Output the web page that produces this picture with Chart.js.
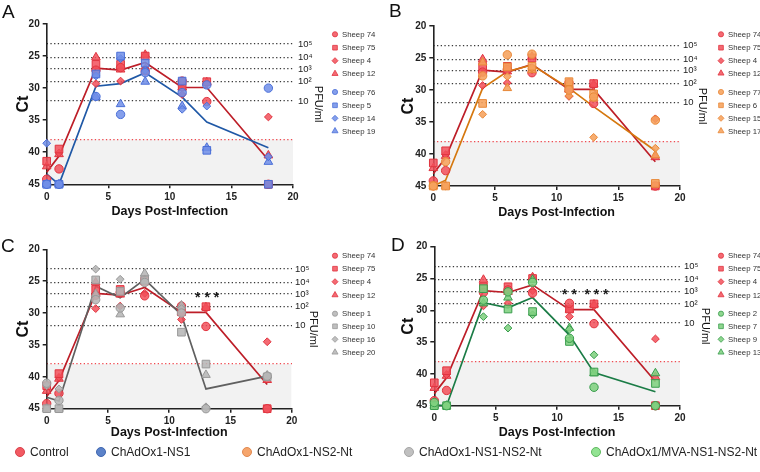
<!DOCTYPE html>
<html><head><meta charset="utf-8">
<script src="https://cdn.jsdelivr.net/npm/chart.js@4.4.1/dist/chart.umd.min.js"></script>
<style>
html,body{margin:0;padding:0;background:#fff;}
#wrap{position:relative;width:760px;height:472px;overflow:hidden;font-family:'Liberation Sans',Arial,sans-serif;}
canvas{position:absolute;}
.letter{position:absolute;font-size:19px;color:#111;line-height:19px;}
.leg{position:absolute;top:446px;height:12px;display:flex;align-items:center;font-size:12px;color:#222;white-space:nowrap;}
.dot{position:absolute;top:447px;width:10px;height:10px;border-radius:50%;box-sizing:border-box;border:1px solid;}
</style></head>
<body><div id="wrap">
<canvas id="cA" width="380" height="222" style="left:0;top:0"></canvas>
<canvas id="cB" width="380" height="222" style="left:380px;top:0"></canvas>
<canvas id="cC" width="380" height="226" style="left:0;top:218px"></canvas>
<canvas id="cD" width="380" height="226" style="left:380px;top:218px"></canvas>
<div class="letter" style="left:2px;top:2px">A</div>
<div class="letter" style="left:389px;top:1px">B</div>
<div class="letter" style="left:1px;top:236px">C</div>
<div class="letter" style="left:391px;top:235px">D</div>
<div id="bottomLegend"></div>
</div>
<script>
// ---------------- data ----------------
const days = [0, 1, 4, 6, 8, 11, 13, 18];
const xTickValues = [0, 5, 10, 15, 20];
const yTickValues = [20, 25, 30, 35, 40, 45];
const pfuTickValues = [23.1, 25.2, 27.0, 29.0, 32.0];
const pfuTickLabels = ['10\u2075', '10\u2074', '10\u00B3', '10\u00B2', '10'];
const detectionLimitCt = 38;
const xTitle = 'Days Post-Infection';
const yTitle = 'Ct';
const y2Title = 'PFU/ml';
const groupNames = ['Control', 'ChAdOx1-NS1', 'ChAdOx1-NS2-Nt', 'ChAdOx1-NS1-NS2-Nt', 'ChAdOx1/MVA-NS1-NS2-Nt'];

const controlSheep = ['Sheep 74', 'Sheep 75', 'Sheep 4', 'Sheep 12'];
const controlCt = [
  [44.2, 42.6, 27.2, 26.8, 27.3, 28.9, 32.1, 45.0],
  [41.4, 39.5, 26.3, 26.3, 25.0, 29.8, 29.0, 45.0],
  [45.0, 40.1, 29.3, 28.9, 26.9, 31.0, 29.3, 34.5],
  [42.2, 40.3, 25.2, 27.1, 24.8, 29.9, 29.1, 40.5]
];
const controlMean = [43.1, 40.6, 26.9, 27.2, 26.0, 29.9, 29.9, 41.2];

const ns1Sheep = ['Sheep 76', 'Sheep 5', 'Sheep 14', 'Sheep 19'];
const ns1Ct = [
  [45.0, 45.0, 31.3, 34.1, 27.6, 30.7, 29.5, 30.0],
  [45.0, 45.0, 27.8, 25.0, 26.1, 28.9, 39.7, 45.0],
  [38.6, 45.0, 28.1, 25.4, 27.2, 33.3, 32.8, 40.7],
  [45.0, 45.0, 31.4, 32.5, 29.0, 32.8, 39.3, 41.5]
];
const ns1Mean = [43.4, 45.0, 29.7, 29.3, 27.6, 31.4, 35.3, 39.3];

const ns2Sheep = ['Sheep 77', 'Sheep 6', 'Sheep 15', 'Sheep 17'];
const ns2Ct = [
  [45.0, 41.2, 27.8, 24.5, 24.4, 30.0, 31.1, 34.7],
  [45.0, 45.0, 32.1, 26.4, 26.3, 28.7, 30.6, 44.6],
  [45.0, 45.0, 33.8, 27.9, 26.6, 30.9, 37.4, 39.1],
  [45.0, 45.0, 25.7, 29.7, 26.9, 29.2, 31.3, 40.2]
];
const ns2Mean = [45.0, 44.1, 29.7, 27.1, 26.1, 29.7, 32.6, 39.5];

const ns12Sheep = ['Sheep 1', 'Sheep 10', 'Sheep 16', 'Sheep 20'];
const ns12Ct = [
  [41.0, 43.7, 27.9, 29.2, 25.2, 30.0, 45.0, 39.9],
  [45.0, 45.0, 24.8, 26.6, 24.8, 33.0, 38.0, 40.0],
  [41.4, 41.9, 23.1, 24.7, 24.9, 29.3, 44.7, 39.9],
  [45.0, 45.0, 27.0, 30.2, 23.8, 28.8, 39.7, 39.8]
];
const ns12Mean = [43.2, 43.8, 25.8, 27.6, 24.7, 30.3, 41.9, 39.9];

const mvaSheep = ['Sheep 2', 'Sheep 7', 'Sheep 9', 'Sheep 13'];
const mvaCt = [
  [44.5, 45.0, 28.4, 27.1, 25.6, 34.4, 42.1, 45.0],
  [45.0, 45.0, 26.6, 29.8, 30.2, 34.9, 39.7, 41.5],
  [45.0, 45.0, 31.0, 32.8, 30.7, 33.0, 37.0, 45.0],
  [45.0, 45.0, 28.9, 28.0, 25.2, 32.8, 39.9, 39.9]
];
const mvaMean = [44.9, 45.0, 28.8, 29.6, 28.0, 33.9, 39.8, 42.8];

const sigDaysC = [13.1];
const sigCtC = [27.1];
const sigTextC = ['* * *'];
const sigDaysD = [11.0, 13.2];
const sigCtD = [27.1, 27.1];
const sigTextD = ['* *', '* * *'];

// ---------------- styles ----------------
const FONT = "'Liberation Sans', Arial, sans-serif";
const markerStyles = ['circle', 'rect', 'rectRot', 'triangle'];
const markerRadius = {circle: 4.2, rect: 5.4, rectRot: 3.9, triangle: 5.0};
const legendRadius = {circle: 2.6, rect: 3.3, rectRot: 3.0, triangle: 3.5};
const palette = {
  control: {fill: 'rgba(242,80,90,0.85)', edge: '#e0343f', line: '#bd1e28', dot: '#f25a62', dotEdge: '#d9404a'},
  ns1:  {fill: 'rgba(112,142,232,0.85)', edge: '#4a6fd8', line: '#1f58a6', dot: '#5b82c9', dotEdge: '#3f66b0'},
  ns2:  {fill: 'rgba(246,162,92,0.88)', edge: '#e88838', line: '#d5780f', dot: '#f6a56c', dotEdge: '#e08850'},
  ns12: {fill: 'rgba(182,182,182,0.88)', edge: '#989898', line: '#606060', dot: '#c0c0c0', dotEdge: '#a5a5a5'},
  mva:  {fill: 'rgba(128,208,128,0.88)', edge: '#3a9d4e', line: '#1b7c46', dot: '#92e392', dotEdge: '#5fb85f'}
};

function drawShape(ctx, style, r, x, y, fill, edge) {
  ctx.fillStyle = fill; ctx.strokeStyle = edge; ctx.lineWidth = 0.8;
  if (Chart.helpers && Chart.helpers.drawPoint) {
    Chart.helpers.drawPoint(ctx, {pointStyle: style, radius: r, rotation: 0, borderWidth: 0.8}, x, y);
    return;
  }
  ctx.beginPath();
  if (style === 'circle') ctx.arc(x, y, r, 0, Math.PI * 2);
  else if (style === 'rect') { const s = r * Math.SQRT1_2; ctx.rect(x - s, y - s, 2 * s, 2 * s); }
  else if (style === 'rectRot') { ctx.moveTo(x, y - r); ctx.lineTo(x + r, y); ctx.lineTo(x, y + r); ctx.lineTo(x - r, y); ctx.closePath(); }
  else { ctx.moveTo(x, y - r); ctx.lineTo(x + r * 0.866, y + r * 0.5); ctx.lineTo(x - r * 0.866, y + r * 0.5); ctx.closePath(); }
  ctx.fill(); ctx.stroke();
}

const sideLegend = {
  id: 'sideLegend',
  afterDraw(chart, args, opts) {
    if (!opts || !opts.items) return;
    const ctx = chart.ctx;
    ctx.save();
    opts.items.forEach((it, i) => {
      const y = opts.rows[i];
      drawShape(ctx, it.style, legendRadius[it.style], opts.markerX, y, it.fill, it.edge);
      ctx.font = '7.8px ' + FONT;
      ctx.fillStyle = '#333';
      ctx.textBaseline = 'middle';
      ctx.textAlign = 'left';
      ctx.fillText(it.label, opts.textX, y + 0.5);
    });
    ctx.restore();
  }
};

const sigMarks = {
  id: 'sigMarks',
  afterDatasetsDraw(chart, args, opts) {
    if (!opts || !opts.days) return;
    const ctx = chart.ctx, xs = chart.scales.x, ys = chart.scales.y;
    ctx.save();
    ctx.font = 'bold 14px ' + FONT;
    ctx.fillStyle = '#1a1a1a';
    ctx.textAlign = 'center';
    ctx.textBaseline = 'middle';
    opts.days.forEach((d, i) => {
      ctx.fillText(opts.texts[i], xs.getPixelForValue(d), ys.getPixelForValue(opts.cts[i]) + 3.5);
    });
    ctx.restore();
  }
};

function sheepDatasets(names, values, pal, order) {
  return names.map((name, k) => ({
    type: 'scatter',
    label: name,
    data: days.map((d, i) => ({x: d, y: values[k][i]})),
    pointStyle: markerStyles[k],
    pointRadius: markerRadius[markerStyles[k]],
    backgroundColor: pal.fill,
    borderColor: pal.edge,
    borderWidth: 1,
    clip: false,
    order: order
  }));
}
function meanDataset(values, pal, order) {
  return {
    type: 'line', label: 'mean',
    data: days.map((d, i) => ({x: d, y: values[i]})),
    borderColor: pal.line, borderWidth: 1.7, pointRadius: 0, fill: false,
    tension: 0, clip: false, order: order
  };
}

function buildPanel(id, L, grpNames, grpCt, grpMean, pal, sig) {
  const cv = document.getElementById(id);
  const W = cv.width, H = cv.height;
  const rightAxisW = L.pfuTitleX - L.right + 6.6;
  const datasets = [
    {type: 'line', label: 'lod', data: [{x: 0, y: detectionLimitCt}, {x: 20, y: detectionLimitCt}],
     borderWidth: 0, pointRadius: 0, backgroundColor: '#f2f2f2', fill: {value: 45}, order: 100},
    meanDataset(controlMean, palette.control, 50),
    meanDataset(grpMean, pal, 49),
    ...sheepDatasets(controlSheep, controlCt, palette.control, 20),
    ...sheepDatasets(grpNames, grpCt, pal, 10)
  ];
  const legendItems = [
    ...controlSheep.map((n, k) => ({label: n, style: markerStyles[k], fill: palette.control.fill, edge: palette.control.edge})),
    ...grpNames.map((n, k) => ({label: n, style: markerStyles[k], fill: pal.fill, edge: pal.edge}))
  ];
  const tickFont = {family: FONT, size: 10, weight: 'bold'};
  return new Chart(cv, {
    data: {datasets},
    plugins: [sideLegend, sigMarks],
    options: {
      responsive: false, animation: false, devicePixelRatio: 1, events: [],
      layout: {padding: {left: 0, top: L.top, right: W - L.right - rightAxisW, bottom: 0}},
      plugins: {
        legend: {display: false}, tooltip: {enabled: false},
        filler: {drawTime: 'beforeDraw'},
        sideLegend: {items: legendItems, rows: L.rows, markerX: L.markerX, textX: L.textX},
        sigMarks: sig
      },
      scales: {
        x: {
          type: 'linear', position: 'bottom', min: 0, max: 20,
          afterBuildTicks: s => { s.ticks = xTickValues.map(v => ({value: v})); },
          afterFit: s => { s.height = H - L.bottom; },
          ticks: {font: tickFont, color: '#222', padding: 2.5},
          grid: {display: true, drawOnChartArea: false, drawTicks: true, tickLength: 4, color: '#222', lineWidth: 1.5},
          border: {display: true, color: '#222', width: 1.6},
          title: {display: true, text: xTitle, color: '#111', font: {family: FONT, size: 12.5, weight: 'bold'},
                  padding: {top: 0, bottom: H - L.xTitleY - 7.5}}
        },
        y: {
          type: 'linear', position: 'left', min: 20, max: 45, reverse: true,
          afterBuildTicks: s => { s.ticks = yTickValues.map(v => ({value: v})); },
          afterFit: s => { s.width = L.left; },
          ticks: {font: tickFont, color: '#222', padding: 3},
          grid: {display: true, drawOnChartArea: false, drawTicks: true, tickLength: 4, color: '#222', lineWidth: 1.5},
          border: {display: true, color: '#222', width: 1.6},
          title: {display: true, text: yTitle, color: '#111', font: {family: FONT, size: 16, weight: 'bold'},
                  padding: {top: L.ctTitleX - 9.6, bottom: 0}}
        },
        y2: {
          type: 'linear', position: 'right', min: 20, max: 45, reverse: true,
          afterBuildTicks: s => { s.ticks = [...pfuTickValues, detectionLimitCt].map(v => ({value: v})); },
          afterFit: s => { s.width = rightAxisW; },
          ticks: {font: {family: FONT, size: 9.5}, color: '#222', padding: L.pfuLabelX - L.right, autoSkip: false,
                  callback: (v, i) => (pfuTickLabels[i] !== undefined ? pfuTickLabels[i] : '')},
          grid: {display: true, drawOnChartArea: true, drawTicks: false,
                 color: c => (c.tick && c.tick.value === detectionLimitCt ? '#f04a50' : '#3a3a3a'),
                 lineWidth: 1.3, borderDash: [1.3, 2.4]},
          border: {display: false, dash: [1.3, 2.4]},
          title: {display: true, text: y2Title, color: '#111', font: {family: FONT, size: 11},
                  padding: {top: 0, bottom: 0}}
        }
      }
    }
  });
}

const layoutA = {left: 46.7, right: 293, top: 24, bottom: 184.3, ctTitleX: 23.3, pfuTitleX: 318, pfuLabelX: 298, xTitleY: 211.7,
  markerX: 335, textX: 342, rows: [34.3, 47.7, 60.7, 73.7, 92, 105.3, 118.3, 131]};
const layoutB = {left: 53.3, right: 300, top: 26, bottom: 186, ctTitleX: 28.3, pfuTitleX: 321.7, pfuLabelX: 303, xTitleY: 213,
  markerX: 341, textX: 348, rows: [34.3, 47.7, 60.7, 73.3, 92, 105.3, 118.3, 131]};
const layoutC = {left: 46.7, right: 291.7, top: 31.3, bottom: 190.7, ctTitleX: 23.3, pfuTitleX: 313.3, pfuLabelX: 295, xTitleY: 215,
  markerX: 335, textX: 342, rows: [37.7, 50.7, 63.7, 77, 95.7, 108.3, 121.3, 134.3]};
const layoutD = {left: 54.3, right: 300, top: 28.7, bottom: 187.7, ctTitleX: 28.3, pfuTitleX: 325, pfuLabelX: 304, xTitleY: 215,
  markerX: 341, textX: 348, rows: [37.7, 50.7, 63.7, 77, 95.7, 108.3, 121.3, 134.3]};

buildPanel('cA', layoutA, ns1Sheep, ns1Ct, ns1Mean, palette.ns1, null);
buildPanel('cB', layoutB, ns2Sheep, ns2Ct, ns2Mean, palette.ns2, null);
buildPanel('cC', layoutC, ns12Sheep, ns12Ct, ns12Mean, palette.ns12, {days: sigDaysC, cts: sigCtC, texts: sigTextC});
buildPanel('cD', layoutD, mvaSheep, mvaCt, mvaMean, palette.mva, {days: sigDaysD, cts: sigCtD, texts: sigTextD});

// bottom group legend
const legendDotX = [20, 101, 247, 409, 596];
const groupKeys = ['control', 'ns1', 'ns2', 'ns12', 'mva'];
const bl = document.getElementById('bottomLegend');
groupNames.forEach((name, i) => {
  const p = palette[groupKeys[i]];
  const d = document.createElement('div');
  d.className = 'dot';
  d.style.left = (legendDotX[i] - 5) + 'px';
  d.style.background = p.dot; d.style.borderColor = p.dotEdge;
  bl.appendChild(d);
  const t = document.createElement('div');
  t.className = 'leg';
  t.style.left = (legendDotX[i] + 10) + 'px';
  t.textContent = name;
  bl.appendChild(t);
});
</script>
</body></html>
